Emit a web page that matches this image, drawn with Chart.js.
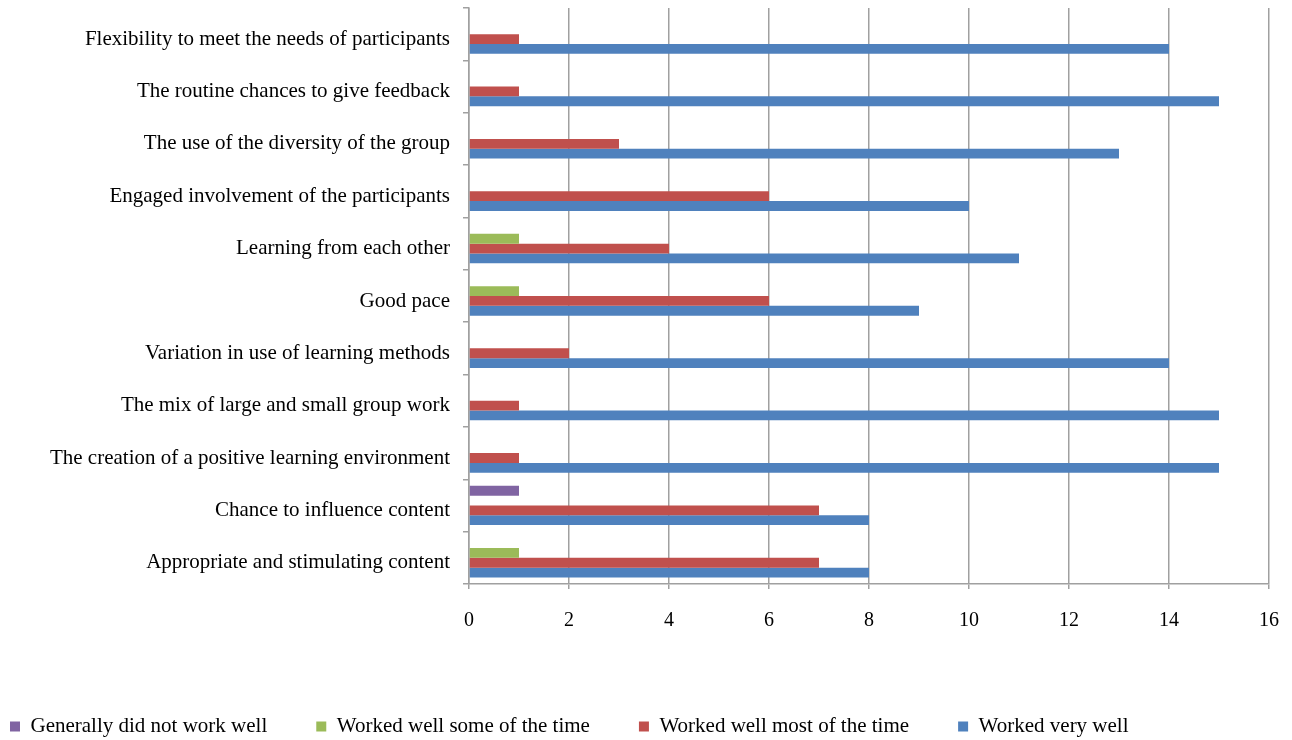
<!DOCTYPE html>
<html>
<head>
<meta charset="utf-8">
<script src="https://cdn.jsdelivr.net/npm/chart.js@4"></script>
<style>
  body { margin: 0; background: #fff; }
  #wrap { width: 1292px; height: 740px; position: relative; }
</style>
</head>
<body>
<div id="wrap"><canvas id="myChart"></canvas></div>
<script>
// categories, top to bottom as drawn
const categories = [
  "Flexibility to meet the needs of participants",
  "The routine chances to give feedback",
  "The use of the diversity of the group",
  "Engaged involvement of the participants",
  "Learning from each other",
  "Good pace",
  "Variation in use of learning methods",
  "The mix of large and small group work",
  "The creation of a positive learning environment",
  "Chance to influence content",
  "Appropriate and stimulating content"
];

const series_names = [
  "Generally did not work well",
  "Worked well some of the time",
  "Worked well most of the time",
  "Worked very well"
];

const did_not_work = [0, 0, 0, 0, 0, 0, 0, 0, 0, 1, 0];
const some_of_time = [0, 0, 0, 0, 1, 1, 0, 0, 0, 0, 1];
const most_of_time = [1, 1, 3, 6, 4, 6, 2, 1, 1, 7, 7];
const very_well    = [14, 15, 13, 10, 11, 9, 14, 15, 15, 8, 8];

const x_ticks = [0, 2, 4, 6, 8, 10, 12, 14, 16];

const colors = ['#8064a2', '#9bbb59', '#c0504d', '#4f81bd'];
const fontFamily = '"Liberation Serif", "Times New Roman", serif';
const gridColor = '#a0a0a0';

const PLOT_BOTTOM = 584;

// move the legend to where the original sits (left-leaning, near the bottom)
const legendPlace = {
  id: 'legendPlace',
  afterLayout(chart) {
    const pad = chart.options.plugins.legend.labels.padding;
    chart.legend.left = 10 - pad;
    chart.legend.top = 667;
  }
};

var context = document.getElementById("myChart");
var myBarChart = new Chart(context, {
  type: 'bar',
  data: {
    labels: categories,
    datasets: [did_not_work, some_of_time, most_of_time, very_well].map((d, i) => ({
      label: series_names[i],
      data: d,
      backgroundColor: colors[i],
      borderWidth: 0,
      categoryPercentage: 0.75,
      barPercentage: 1.0
    }))
  },
  options: {
    indexAxis: 'y',
    responsive: true,
    maintainAspectRatio: false,
    animation: false,
    layout: { padding: { top: 8, right: 23, left: 0, bottom: 0 } },
    plugins: {
      tooltip: { enabled: false },
      legend: {
        position: 'bottom',
        align: 'start',
        labels: {
          boxWidth: 10,
          boxHeight: 10,
          padding: 49,
          color: '#000',
          font: { family: fontFamily, size: 21 }
        }
      }
    },
    scales: {
      x: {
        min: 0,
        max: 16,
        afterBuildTicks: (scale) => { scale.ticks = x_ticks.map(v => ({ value: v })); },
        afterFit: (scale) => {
          const lg = scale.chart.legend;
          scale.height = 740 - PLOT_BOTTOM - (lg ? lg.height : 0);
          scale.paddingLeft = 0;
          scale.paddingRight = 0;
        },
        grid: {
          color: gridColor,
          lineWidth: 1.5,
          tickLength: 5
        },
        border: { color: gridColor, width: 1.5 },
        ticks: {
          color: '#000',
          padding: 20,
          font: { family: fontFamily, size: 20 }
        }
      },
      y: {
        afterFit: (scale) => {
          scale.width = 469;
          scale.paddingTop = 0;
          scale.paddingBottom = 0;
        },
        grid: {
          offset: true,
          drawOnChartArea: false,
          color: gridColor,
          lineWidth: 1.5,
          tickLength: 6
        },
        border: { color: gridColor, width: 1.5 },
        ticks: {
          color: '#000',
          padding: 13,
          labelOffset: 5,
          font: { family: fontFamily, size: 21 }
        }
      }
    }
  },
  plugins: [legendPlace]
});
</script>
</body>
</html>
